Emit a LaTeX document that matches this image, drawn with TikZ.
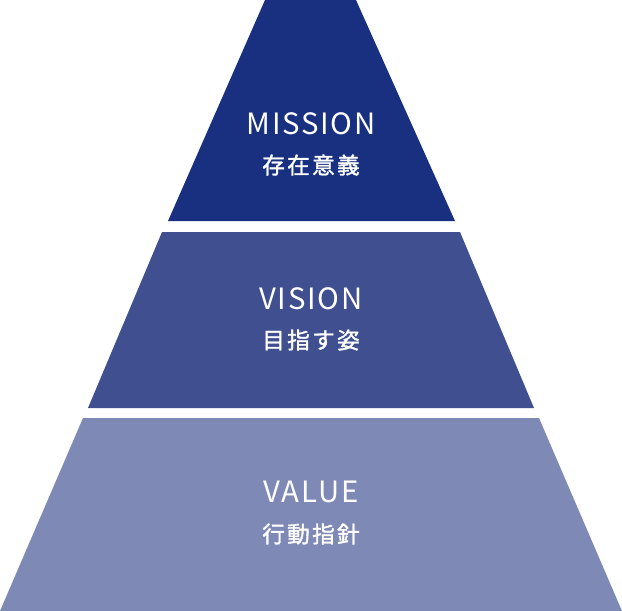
\documentclass[tikz,border=0pt]{standalone}
\usepackage{fontspec}
\setmainfont{Noto Sans CJK JP}[LetterSpace=6]
\newfontfamily\jpbold{Noto Sans CJK JP}[LetterSpace=10,FakeBold=1.5]
\begin{document}
\begin{tikzpicture}[x=0.75pt,y=0.75pt,yscale=-1,xscale=1]
\tikzset{
  label/.style={text=white,align=center,inner sep=0.75pt,font=\fontsize{22}{30}\selectfont},
  sub/.style={text=white,align=center,inner sep=0.75pt,font=\jpbold\fontsize{17}{20}\selectfont},
}
\definecolor{missionblue}{RGB}{24,48,127}
\definecolor{visionblue}{RGB}{63,79,143}
\definecolor{valueblue}{RGB}{127,137,181}
\useasboundingbox (0,0) rectangle (622,611);

%Shape: Trapezoid (mission)
\fill [missionblue] (265,0) -- (356,0) -- (455,221) -- (168,221) -- cycle ;
%Shape: Trapezoid (vision)
\fill [visionblue] (162,232) -- (460,232) -- (534,408) -- (88,408) -- cycle ;
%Shape: Trapezoid (value)
\fill [valueblue] (83,418) -- (539,418) -- (622,611) -- (0,611) -- cycle ;

% Text Node
\node [label] (mission) at (311,124) {MISSION};
\node [sub] (missionjp) at (311,165) {存在意義};
% Text Node
\node [label] (vision) at (311,299) {VISION};
\node [sub] (visionjp) at (311,340) {目指す姿};
% Text Node
\node [label] (value) at (311,492) {VALUE};
\node [sub] (valuejp) at (311,534) {行動指針};

\end{tikzpicture}
\end{document}
